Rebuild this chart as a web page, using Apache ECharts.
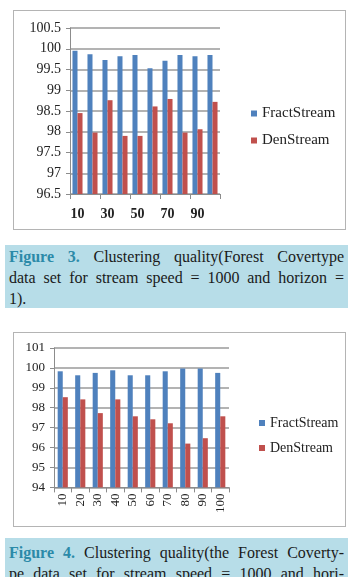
<!DOCTYPE html>
<html>
<head>
<meta charset="utf-8">
<script src="https://cdn.jsdelivr.net/npm/echarts@6/dist/echarts.min.js"></script>
<style>
  body { margin: 0; background: #fff; width: 361px; height: 577px; overflow: hidden; position: relative; font-family: "Liberation Serif", serif; }
  .box { position: absolute; left: 13px; width: 331px; border: 1px solid #b4b4b4; background: #fff; }
  .cap { position: absolute; left: 5px; width: 335px; padding: 0 4px 0 4px; background: #b7dde8; color: #1a1a1a; font-size: 16px; line-height: 21px; }
  .cap div { text-align: justify; text-align-last: justify; white-space: nowrap; }
  .cap div.last { text-align-last: left; }
  .cap b { color: #2b8aa8; }
</style>
</head>
<body>
<div id="c1" class="box" style="top:10px;height:218px"></div>
<div class="cap" style="top:245px;height:62px;padding-top:1px">
  <div><b>Figure 3.</b> Clustering quality(Forest Covertype</div>
  <div>data set for stream speed = 1000 and horizon =</div>
  <div class="last">1).</div>
</div>
<div id="c2" class="box" style="top:332px;height:193px"></div>
<div class="cap" style="top:538px;height:60px;padding-top:4px">
  <div><b>Figure 4.</b> Clustering quality(the Forest Coverty-</div>
  <div>pe data set for stream speed = 1000 and hori-</div>
  <div class="last">zon = 1).</div>
</div>
<script>
// 图3 数据
const horizon = ['10', '20', '30', '40', '50', '60', '70', '80', '90', '100'];
const fract3 = [99.95, 99.87, 99.73, 99.82, 99.85, 99.53, 99.71, 99.85, 99.82, 99.85];
const den3 = [98.45, 97.98, 98.76, 97.9, 97.9, 98.61, 98.79, 97.98, 98.06, 98.72];
// 图4 数据
const fract4 = [99.83, 99.63, 99.75, 99.88, 99.63, 99.63, 99.83, 99.97, 99.97, 99.75];
const den4 = [98.53, 98.42, 97.73, 98.42, 97.57, 97.42, 97.22, 96.2, 96.47, 97.57];

const BLUE = '#4f81bd';
const RED = '#c0504d';
const FONT = 'Liberation Serif';

function makeOption(cfg) {
  return {
    animation: false,
    textStyle: { fontFamily: FONT },
    legend: {
      orient: 'vertical',
      left: cfg.legendLeft,
      top: cfg.legendTop,
      itemWidth: 6,
      itemHeight: 6,
      itemGap: cfg.legendGap,
      icon: 'rect',
      textStyle: { fontFamily: FONT, fontSize: cfg.legendFont, color: '#222' },
      data: ['FractStream', 'DenStream']
    },
    grid: { left: cfg.gridLeft, top: cfg.gridTop, width: cfg.gridWidth, height: cfg.gridHeight },
    xAxis: {
      type: 'category',
      data: horizon,
      axisLine: { lineStyle: { color: '#8c8c8c' } },
      axisTick: { show: true, length: 5, lineStyle: { color: '#8c8c8c' } },
      axisLabel: cfg.xLabel
    },
    yAxis: {
      type: 'value',
      min: cfg.min,
      max: cfg.max,
      interval: cfg.interval,
      axisLine: { show: true, lineStyle: { color: '#8c8c8c' } },
      axisTick: { show: true, length: 4, lineStyle: { color: '#8c8c8c' } },
      splitLine: { lineStyle: { color: '#9a9a9a', width: 1.5 } },
      axisLabel: { fontFamily: FONT, fontSize: cfg.yFont, color: '#222', margin: 9 }
    },
    series: [{
      name: 'FractStream',
      type: 'bar',
      data: cfg.fract,
      itemStyle: { color: BLUE },
      barGap: '0%',
      barCategoryGap: cfg.catGap
    }, {
      name: 'DenStream',
      type: 'bar',
      data: cfg.den,
      itemStyle: { color: RED },
      barGap: '0%',
      barCategoryGap: cfg.catGap
    }]
  };
}

const chart1 = echarts.init(document.getElementById('c1'));
chart1.setOption(makeOption({
  legendLeft: 232, legendTop: 90, legendGap: 12, legendFont: 15,
  gridLeft: 56, gridTop: 17, gridWidth: 150, gridHeight: 166,
  min: 96.5, max: 100.5, interval: 0.5, yFont: 14,
  xLabel: { interval: 1, fontFamily: FONT, fontSize: 14, fontWeight: 'bold', color: '#222', margin: 13 },
  fract: fract3, den: den3, catGap: '33%'
}));

const chart2 = echarts.init(document.getElementById('c2'));
chart2.setOption(makeOption({
  legendLeft: 240, legendTop: 78, legendGap: 11, legendFont: 14,
  gridLeft: 40, gridTop: 15, gridWidth: 175, gridHeight: 139.4,
  min: 94, max: 101, interval: 1, yFont: 13,
  xLabel: { interval: 0, rotate: 90, fontFamily: FONT, fontSize: 13, color: '#222', margin: 6 },
  fract: fract4, den: den4, catGap: '42%'
}));
</script>
</body>
</html>
